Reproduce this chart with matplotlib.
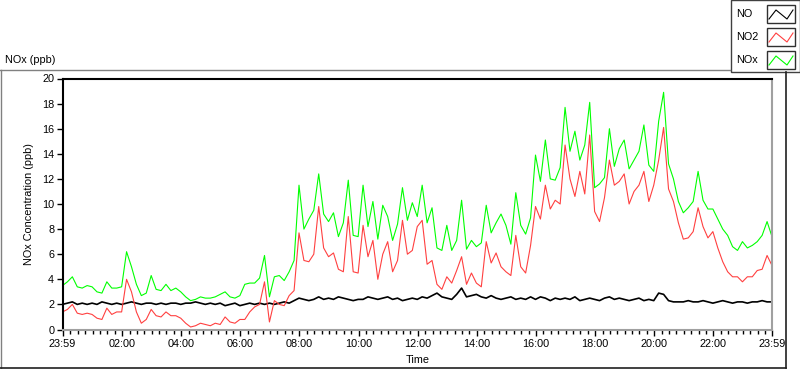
import numpy as np
import matplotlib
matplotlib.use('Agg')
import matplotlib.pyplot as plt
from matplotlib.lines import Line2D
from matplotlib.patches import Rectangle

W, H = 800, 369

# one reading every 10 minutes, 23:59 -> 23:59
minutes = np.arange(145) * 10 - 1

nox_ppb = [3.5, 3.8, 4.2, 3.4, 3.3, 3.5,
           3.4, 3.0, 2.9, 3.8, 3.3, 3.3,
           3.4, 6.2, 5.0, 3.6, 2.7, 2.9,
           4.3, 3.2, 3.1, 3.6, 3.1, 3.3,
           3.0, 2.6, 2.3, 2.4, 2.6, 2.5,
           2.5, 2.6, 2.8, 3.0, 2.6, 2.5,
           2.7, 3.6, 3.7, 3.7, 4.1, 5.9,
           2.6, 4.2, 4.3, 3.9, 4.6, 5.5,
           11.5, 8.0, 8.8, 9.5, 12.4, 9.2,
           8.6, 9.3, 7.4, 8.5, 11.9, 7.5,
           7.4, 11.5, 8.2, 10.2, 7.2, 9.9,
           9.0, 7.1, 8.4, 11.3, 8.7, 10.1,
           9.0, 11.5, 8.5, 9.7, 6.5, 6.3,
           8.3, 6.3, 7.1, 10.3, 6.4, 7.1,
           6.6, 6.9, 9.9, 7.7, 8.5, 9.2,
           8.3, 6.8, 10.9, 8.3, 7.6, 8.9,
           13.9, 11.8, 15.1, 12.0, 11.9, 12.9,
           17.7, 14.2, 15.8, 13.5, 14.7, 18.1,
           11.3, 11.6, 12.1, 16.0, 13.0, 14.4,
           15.1, 12.8, 13.5, 14.2, 16.3, 13.1,
           12.6, 16.6, 18.9, 13.2, 12.0, 10.2,
           9.3, 9.7, 10.2, 12.6, 10.3, 9.6,
           9.6, 8.8, 8.0, 7.5, 6.6, 6.3,
           7.0, 6.5, 6.7, 7.0, 7.5, 8.6,
           7.4]

no2_ppb = [1.4, 1.6, 2.0, 1.3, 1.2, 1.3,
           1.2, 0.9, 0.8, 1.7, 1.2, 1.4,
           1.4, 4.0, 3.0, 1.4, 0.5, 0.8,
           1.6, 1.1, 1.0, 1.4, 1.1, 1.1,
           0.9, 0.5, 0.2, 0.3, 0.5, 0.4,
           0.3, 0.5, 0.4, 1.0, 0.6, 0.5,
           0.8, 0.8, 1.4, 1.8, 2.0, 3.8,
           0.6, 2.3, 2.0, 1.9, 2.7, 3.1,
           7.7, 5.5, 5.4, 6.0, 9.8, 6.5,
           5.8, 6.1, 4.8, 4.6, 9.0, 4.6,
           4.5, 8.3, 5.8, 7.1, 4.0, 6.0,
           7.0, 4.6, 5.5, 8.7, 6.0, 6.3,
           8.2, 8.7, 5.2, 5.5, 3.6, 3.2,
           4.2, 3.7, 4.7, 5.8, 3.6, 4.5,
           3.7, 3.4, 7.0, 5.3, 6.1, 5.0,
           4.6, 4.3, 7.5, 5.0, 4.5, 6.7,
           9.8, 8.8, 11.5, 9.6, 10.3, 10.0,
           14.7, 12.0, 10.6, 12.6, 10.8, 15.5,
           9.4, 8.6, 10.5, 13.5, 11.5, 11.8,
           12.4, 10.0, 11.0, 11.5, 12.6, 10.2,
           11.5, 13.5, 16.1, 11.2, 10.2, 8.5,
           7.2, 7.3, 7.8, 9.7, 8.2, 7.3,
           7.8, 6.5, 5.4, 4.6, 4.2, 4.2,
           3.8, 4.2, 4.2, 4.7, 4.8, 5.9,
           5.1]

no_ppb = [2.0, 2.1, 2.2, 2.0, 2.1, 2.0,
          2.1, 2.0, 2.2, 2.1, 2.0, 2.1,
          2.0, 2.1, 2.2, 2.1, 2.0, 2.1,
          2.1, 2.0, 2.1, 2.0, 2.1, 2.1,
          2.0, 2.1, 2.1, 2.2, 2.1, 2.0,
          2.1, 2.0, 2.1, 1.9, 2.0, 2.1,
          1.9, 2.0, 2.1, 2.0, 2.1, 2.0,
          2.1, 2.0, 2.1, 2.2, 2.1, 2.3,
          2.5, 2.4, 2.3, 2.4, 2.6, 2.4,
          2.5, 2.4, 2.6, 2.5, 2.4, 2.3,
          2.4, 2.4, 2.6, 2.5, 2.4, 2.5,
          2.6, 2.4, 2.5, 2.3, 2.4, 2.5,
          2.4, 2.6, 2.5, 2.7, 2.9, 2.6,
          2.5, 2.4, 2.8, 3.3, 2.6, 2.7,
          2.8, 2.6, 2.5, 2.7, 2.5, 2.4,
          2.5, 2.6, 2.4, 2.5, 2.4, 2.6,
          2.4, 2.6, 2.5, 2.3, 2.5, 2.4,
          2.5, 2.4, 2.6, 2.3, 2.4, 2.5,
          2.4, 2.3, 2.5, 2.6, 2.4, 2.5,
          2.4, 2.3, 2.4, 2.5, 2.3, 2.4,
          2.3, 2.9, 2.8, 2.3, 2.2, 2.2,
          2.2, 2.3, 2.2, 2.2, 2.3, 2.2,
          2.1, 2.2, 2.3, 2.2, 2.1, 2.2,
          2.2, 2.1, 2.2, 2.2, 2.3, 2.2,
          2.2]

series_names = ['NO', 'NO2', 'NOx']
series_colors = ['#000000', '#ff4040', '#00ff00']

time_ticks = [-1, 120, 240, 360, 480, 600, 720, 840, 960, 1080, 1200, 1320, 1439]
time_labels = ['23:59', '02:00', '04:00', '06:00', '08:00', '10:00', '12:00',
               '14:00', '16:00', '18:00', '20:00', '22:00', '23:59']
conc_ticks = [0, 2, 4, 6, 8, 10, 12, 14, 16, 18, 20]

FONT = 'Liberation Sans'
FS = 7.8


def fx(x):
    return x / W


def fy(y):
    return 1 - y / H


def draw_frame(fig):
    # panel outline around the graph (classic LabVIEW look)
    fig.add_artist(Line2D([fx(0), fx(730)], [fy(69.5), fy(69.5)], color='#808080', lw=1))
    fig.add_artist(Line2D([fx(0.5), fx(0.5)], [fy(69.5), fy(369)], color='#808080', lw=1))
    fig.add_artist(Line2D([fx(0), fx(786)], [fy(367.5), fy(367.5)], color='#202020', lw=1.2))
    fig.add_artist(Line2D([fx(785.5), fx(785.5)], [fy(72), fy(368)], color='#202020', lw=1.2))
    fig.text(fx(5), fy(60), 'NOx (ppb)', fontsize=FS, family=FONT, va='center', ha='left')


def draw_legend(fig):
    fig.add_artist(Rectangle((fx(730.5), fy(72)), fx(69), 72 / H, fill=True,
                             facecolor='white', edgecolor='#404040', lw=1))
    rows = [15, 38, 61]
    for name, color, yc in zip(series_names, series_colors, rows):
        fig.text(fx(736), fy(yc - 1), name, fontsize=FS, family=FONT, va='center', ha='left')
        fig.add_artist(Rectangle((fx(767), fy(yc + 8)), fx(28), 18 / H, fill=True,
                                 facecolor='white', edgecolor='#303030', lw=1))
        xs = [fx(769), fx(776), fx(787), fx(793)]
        ys = [fy(yc + 4), fy(yc - 5), fy(yc + 4), fy(yc - 5)]
        fig.add_artist(Line2D(xs, ys, color=color, lw=0.8))


def main():
    plt.rcParams['font.family'] = [FONT, 'DejaVu Sans']
    fig = plt.figure(figsize=(W / 100, H / 100), dpi=100)
    ax = fig.add_axes([fx(62.5), fy(329.5), fx(772 - 62.5), (329.5 - 78.5) / H])

    widths = [1.2, 0.8, 0.8]
    for vals, name, color, lw in zip([no_ppb, no2_ppb, nox_ppb], series_names, series_colors, widths):
        ax.plot(minutes, vals, color=color, lw=lw, label=name)

    ax.set_xlim(-1, 1439)
    ax.set_ylim(0, 20)
    ax.set_xticks(time_ticks)
    ax.set_xticklabels(time_labels)
    minor = [m for m in range(15, 1440, 15) if m % 120 != 0]
    ax.set_xticks(minor, minor=True)
    ax.set_yticks(conc_ticks)
    ax.set_yticklabels([str(v) for v in conc_ticks])
    ax.tick_params(axis='both', which='major', labelsize=FS, length=4.5, width=1, pad=2.5)
    ax.tick_params(axis='x', which='minor', length=3, width=1)
    ax.tick_params(axis='y', which='major', pad=1.5)

    ax.spines['left'].set_color('black')
    ax.spines['left'].set_linewidth(1.5)
    ax.spines['top'].set_color('black')
    ax.spines['top'].set_linewidth(1.5)
    ax.spines['right'].set_color('#a0a0a0')
    ax.spines['right'].set_linewidth(1.5)
    ax.spines['bottom'].set_color('#a0a0a0')
    ax.spines['bottom'].set_linewidth(1.5)

    ax.set_xlabel('Time', fontsize=FS, labelpad=4)
    ax.set_ylabel('NOx Concentration (ppb)', fontsize=FS, labelpad=6)

    draw_frame(fig)
    draw_legend(fig)
    fig.savefig('out.png', dpi=100)


if __name__ == '__main__':
    main()
